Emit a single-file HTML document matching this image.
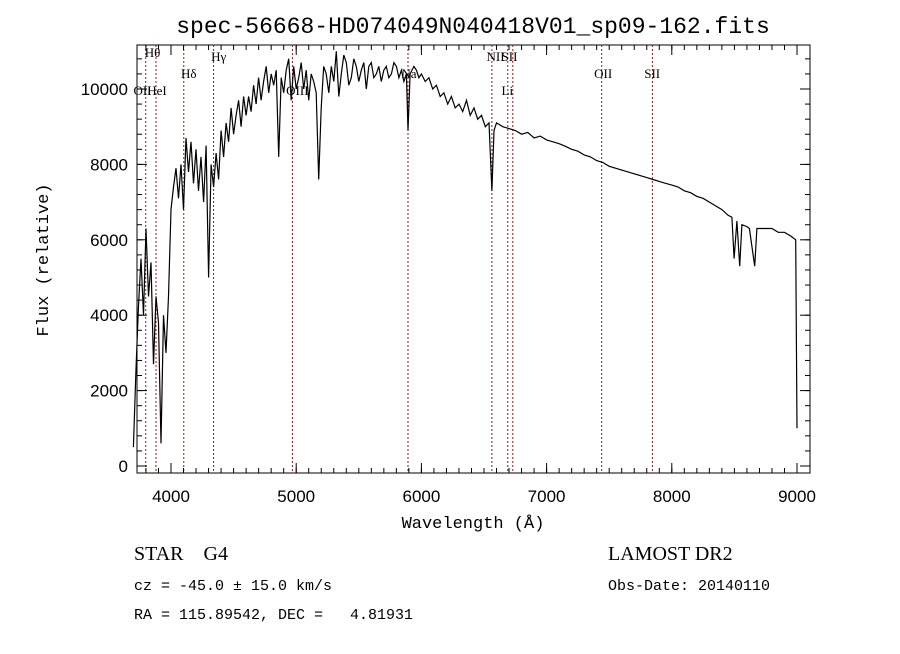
<!DOCTYPE html>
<html><head><meta charset="utf-8">
<style>
body{margin:0;background:#fff;width:900px;height:649px;overflow:hidden}
svg text{font-family:"Liberation Sans",sans-serif;fill:#000}
svg text.mono{font-family:"Liberation Mono",monospace}
svg text.ser{font-family:"Liberation Serif",serif}
</style></head>
<body>
<svg id="chart" width="900" height="649">
<text class="mono" x="473" y="33" font-size="23" text-anchor="middle">spec-56668-HD074049N040418V01_sp09-162.fits</text>
<rect x="137" y="45" width="673" height="428" fill="none" stroke="#000" stroke-width="1"/>
<g id="lines"></g><g id="ticks"></g>
<path id="spec" fill="none" stroke="#000" stroke-width="1.2"/>
<text class="mono" x="48" y="260" font-size="17" text-anchor="middle" transform="rotate(-90 48 260)">Flux (relative)</text>
<text class="mono" x="473" y="528" font-size="17" text-anchor="middle">Wavelength (Å)</text>
<text class="ser" x="134" y="560" font-size="20">STAR&#160;&#160;&#160;&#160;G4</text>
<text class="mono" x="134" y="590" font-size="15">cz = -45.0 ± 15.0 km/s</text>
<text class="mono" x="134" y="619" font-size="15">RA = 115.89542, DEC =&#160;&#160;&#160;4.81931</text>
<text class="ser" x="608" y="560" font-size="20">LAMOST DR2</text>
<text class="mono" x="608" y="590" font-size="15">Obs-Date: 20140110</text>
</svg>
<script>
const wave=[3700,3720,3740,3760,3780,3800,3820,3840,3860,3880,3900,3920,3940,3960,3980,4000,4020,4040,4060,4080,4100,4120,4140,4160,4180,4200,4220,4240,4260,4280,4300,4320,4340,4360,4380,4400,4420,4440,4460,4480,4500,4520,4540,4560,4580,4600,4620,4640,4660,4680,4700,4720,4740,4760,4780,4800,4820,4840,4860,4880,4900,4920,4940,4960,4980,5000,5020,5040,5060,5080,5100,5120,5140,5160,5180,5200,5220,5240,5260,5280,5300,5320,5340,5360,5380,5400,5420,5440,5460,5480,5500,5520,5540,5560,5580,5600,5620,5640,5660,5680,5700,5720,5740,5760,5780,5800,5820,5840,5860,5880,5893,5910,5940,5960,5980,6000,6030,6060,6090,6120,6150,6180,6210,6240,6270,6300,6330,6360,6390,6420,6450,6480,6510,6540,6563,6580,6600,6650,6700,6750,6800,6850,6900,6950,7000,7050,7100,7150,7200,7250,7300,7350,7400,7450,7500,7550,7600,7650,7700,7750,7800,7850,7900,7950,8000,8050,8100,8150,8200,8250,8300,8350,8400,8450,8480,8498,8520,8542,8560,8600,8620,8662,8680,8740,8800,8850,8900,8950,8990,9000];
const flux=[500,2500,4200,5500,4000,6300,4500,5400,2700,4500,3800,600,4000,3000,4500,6800,7400,7900,7100,8000,6800,8700,7800,8600,7500,8400,7300,8200,7000,8500,5000,8000,7400,8300,7600,8900,8200,9100,8600,9500,8800,9300,9700,9000,9800,9300,9800,9400,10100,9600,10300,9700,10200,10600,9900,10400,10100,10500,8200,10300,9900,10500,10800,9700,10600,10000,10300,10700,10000,10500,9700,10400,10200,9900,7600,9500,10600,10400,9900,10600,10200,11000,9800,10400,10900,10700,10100,10300,10800,10600,10200,10500,10700,10000,10600,10700,10300,10400,10600,10200,10500,10600,10300,10400,10700,10600,10300,10500,10200,10400,8900,10400,10600,10500,10300,10400,10200,10300,10000,10100,9800,9900,9600,9800,9500,9600,9400,9700,9300,9500,9200,9300,9000,9100,7300,8900,9100,9000,8950,8900,8800,8850,8700,8750,8650,8600,8550,8480,8400,8350,8250,8200,8100,8050,7950,7900,7850,7800,7750,7700,7650,7600,7550,7500,7450,7400,7300,7250,7150,7100,7000,6900,6800,6650,6600,5500,6500,5300,6400,6350,6300,5300,6300,6300,6300,6200,6200,6100,6000,1000];
const tickVals=[0,2000,4000,6000,8000,10000];
const xTickVals=[4000,5000,6000,7000,8000,9000];
const lineWaves=[3798,3880,4102,4340,4970,5893,6563,6690,6730,7440,7845];
const lineLabels=[["Hθ",3790,57],["OII",3700,95],["HeI",3810,95],["Hδ",4080,78],["Hγ",4320,61],["OIII",4920,95],["Na",5840,78],["NII",6520,61],["SII",6640,61],["Li",6640,95],["OII",7380,78],["SII",7780,78]];
const X=w=>171+(w-4000)*0.1252, Y=f=>466-f*0.0377;
const ns="http://www.w3.org/2000/svg";
const svg=document.getElementById('chart');
const mk=(t,a,p)=>{const e=document.createElementNS(ns,t);for(const k in a)e.setAttribute(k,a[k]);(p||svg).appendChild(e);return e;};
const gl=document.getElementById('lines'), gt=document.getElementById('ticks');
lineWaves.forEach(w=>{const l=mk('line',{x1:X(w),x2:X(w),y1:45,y2:473,stroke:'#8b1a1a','stroke-width':1,'stroke-dasharray':'2,2'},gl);

});
lineLabels.forEach(([t,w,y])=>{const e=mk('text',{x:X(w),y:y,'font-size':13,class:'ser'},gl);e.textContent=t;

});
tickVals.forEach(v=>{mk('line',{x1:137,x2:147,y1:Y(v),y2:Y(v),stroke:'#000'},gt);mk('line',{x1:800,x2:810,y1:Y(v),y2:Y(v),stroke:'#000'},gt);
const e=mk('text',{x:128,y:Y(v)+6,'font-size':17,'text-anchor':'end'},gt);e.textContent=v;

});
for(let v=0;v<11200;v+=400){mk('line',{x1:137,x2:142,y1:Y(v),y2:Y(v),stroke:'#000'},gt);mk('line',{x1:805,x2:810,y1:Y(v),y2:Y(v),stroke:'#000'},gt);}
xTickVals.forEach(v=>{mk('line',{x1:X(v),x2:X(v),y1:463,y2:473,stroke:'#000'},gt);mk('line',{x1:X(v),x2:X(v),y1:45,y2:55,stroke:'#000'},gt);
const e=mk('text',{x:X(v),y:502,'font-size':17,'text-anchor':'middle'},gt);e.textContent=v;

});
for(let v=3800;v<9100;v+=100){mk('line',{x1:X(v),x2:X(v),y1:468,y2:473,stroke:'#000'},gt);mk('line',{x1:X(v),x2:X(v),y1:45,y2:50,stroke:'#000'},gt);}
document.getElementById('spec').setAttribute('d',wave.map((w,i)=>(i?'L':'M')+X(w).toFixed(1)+','+Math.max(45,Y(flux[i])).toFixed(1)).join(''));
</script>
</body></html>
